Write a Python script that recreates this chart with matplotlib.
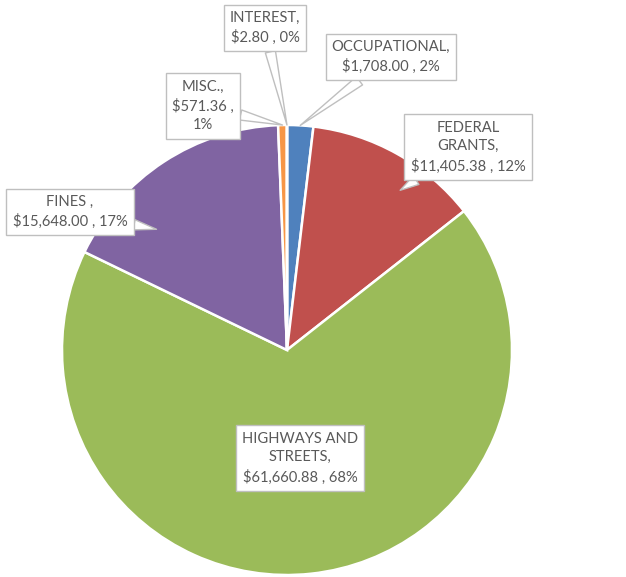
import numpy as np
import matplotlib
matplotlib.use("Agg")
import matplotlib.pyplot as plt

plt.rcParams["font.family"] = ["Lato", "DejaVu Sans"]

# data (clockwise from 12 o'clock)
categories = ["OCCUPATIONAL", "FEDERAL GRANTS", "HIGHWAYS AND STREETS", "FINES", "MISC.", "INTEREST"]
amounts = [1708.00, 11405.38, 61660.88, 15648.00, 571.36, 2.80]
colors = ["#4F81BD", "#C0504D", "#9BBB59", "#8064A2", "#F79646", "#4BACC6"]

# label texts as in the chart
label_text = [
    "OCCUPATIONAL,\n$1,708.00 , 2%",
    "FEDERAL\nGRANTS,\n$11,405.38 , 12%",
    "HIGHWAYS AND\nSTREETS,\n$61,660.88 , 68%",
    "FINES ,\n$15,648.00 , 17%",
    "MISC.,\n$571.36 ,\n1%",
    "INTEREST,\n$2.80 , 0%",
]

W, H = 626, 577
cx, cy, R = 287, H - 350, 225

# label box centres (pixels), pointer radius fraction, angle offset (deg)
label_pos = [(391, 57), (468, 147), (300, 458), (70, 212), (203, 106), (265, 28)]
ptr_r = [1.0, 0.87, 0.63, 0.79, 1.0, 1.0]
ptr_off = [0, 6, 0, -14, 0, 0]

fig = plt.figure(figsize=(W / 100, H / 100), dpi=100)
ax = fig.add_axes([0, 0, 1, 1])

wedges, _ = ax.pie(amounts, colors=colors, startangle=90, counterclock=False,
                   center=(cx, cy), radius=R,
                   wedgeprops=dict(edgecolor="white", linewidth=1.8))
ax.set_xlim(0, W)
ax.set_ylim(0, H)
ax.set_aspect("equal")
ax.axis("off")

total = sum(amounts)
start = 0.0
for i, v in enumerate(amounts):
    span = v / total * 360
    mid = np.radians(start + span / 2 + ptr_off[i])
    start += span
    tx = cx + ptr_r[i] * R * np.sin(mid)
    ty = cy + ptr_r[i] * R * np.cos(mid)
    lx, ly = label_pos[i]
    ax.annotate(label_text[i], xy=(tx, ty), xytext=(lx, H - ly),
                ha="center", va="center", multialignment="center",
                fontsize=10.6, color="#595959", linespacing=1.42,
                bbox=dict(boxstyle="square,pad=0.42", facecolor="white",
                          edgecolor="#BFBFBF", linewidth=1),
                arrowprops=dict(arrowstyle="wedge,tail_width=0.7",
                                facecolor="white", edgecolor="#BFBFBF",
                                linewidth=1, shrinkA=0, shrinkB=0))

fig.savefig("out.png", dpi=100)
